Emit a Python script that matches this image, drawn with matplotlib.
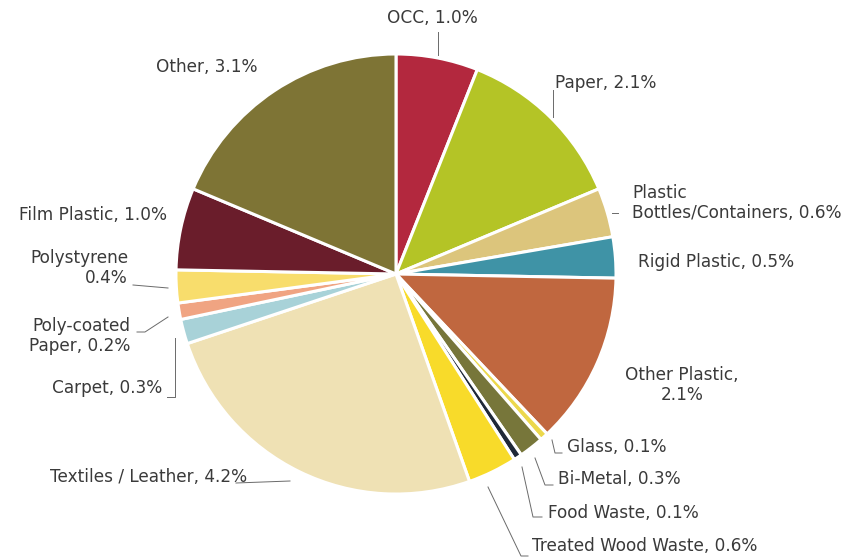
import matplotlib
matplotlib.use("Agg")
import matplotlib.pyplot as plt

# waste composition, share of total stream (%)
categories = ["OCC", "Paper", "Plastic Bottles/Containers", "Rigid Plastic",
              "Other Plastic", "Glass", "Bi-Metal", "Food Waste",
              "Treated Wood Waste", "Textiles / Leather", "Carpet",
              "Poly-coated Paper", "Polystyrene", "Film Plastic", "Other"]
values = [1.0, 2.1, 0.6, 0.5, 2.1, 0.1, 0.3, 0.1, 0.6, 4.2, 0.3, 0.2, 0.4, 1.0, 3.1]
colors = ["#b3283e", "#b4c426", "#dcc57c", "#3f93a6", "#c0673f", "#ecd84c",
          "#77763a", "#1f2838", "#f8db2a", "#efe1b4", "#a8d2d8", "#f0a482",
          "#f8dd6c", "#6a1d2b", "#7e7435"]
explode = [0.01, 0.01, 0.01, 0.01, 0.025, 0.04, 0.05, 0.05, 0.07, 0.045,
           0.02, 0.02, 0.02, 0.01, 0.01]

# label text, anchor (px from top-left), alignment, leader polyline
labels = [
    ("OCC, 1.0%", (432, 18), "center", [(438, 32), (438, 55)]),
    ("Paper, 2.1%", (555, 83), "left", [(553, 90), (553, 117)]),
    ("Plastic\nBottles/Containers, 0.6%", (632, 203), "left", [(612, 213), (618, 213)]),
    ("Rigid Plastic, 0.5%", (638, 262), "left", None),
    ("Other Plastic,\n2.1%", (682, 385), "center", None),
    ("Glass, 0.1%", (567, 447), "left", [(552, 440), (555, 453), (562, 453)]),
    ("Bi-Metal, 0.3%", (558, 479), "left", [(535, 458), (545, 485), (553, 485)]),
    ("Food Waste, 0.1%", (548, 513), "left", [(522, 467), (533, 517), (542, 517)]),
    ("Treated Wood Waste, 0.6%", (532, 546), "left", [(488, 487), (521, 556), (528, 556)]),
    ("Textiles / Leather, 4.2%", (247, 477), "right", [(236, 483), (290, 481)]),
    ("Carpet, 0.3%", (162, 388), "right", [(167, 397), (175, 397), (175, 338)]),
    ("Poly-coated\nPaper, 0.2%", (130, 336), "right", [(137, 332), (145, 332), (168, 317)]),
    ("Polystyrene\n0.4%", (128, 268), "right", [(133, 285), (168, 288)]),
    ("Film Plastic, 1.0%", (167, 215), "right", None),
    ("Other, 3.1%", (258, 67), "right", None),
]

W, H = 860, 558
plt.rcParams["font.family"] = ["DejaVu Sans"]

fig = plt.figure(figsize=(W / 100, H / 100), dpi=100)
ax = fig.add_axes([0, 0, 1, 1])

ax.pie(values, colors=colors, explode=explode, startangle=90, counterclock=False,
       center=(396, H - 274), radius=220, frame=True,
       wedgeprops=dict(edgecolor="white", linewidth=2.2))
ax.set_xlim(0, W)
ax.set_ylim(0, H)
ax.set_aspect("equal")
ax.axis("off")

for text, (x, y), ha, leader in labels:
    ax.text(x, H - y, text, ha=ha, va="center", fontsize=12.2, color="#3a3a3a",
            linespacing=1.2, multialignment=ha)
    if leader:
        ax.plot([p[0] for p in leader], [H - p[1] for p in leader],
                color="#6a6a6a", lw=0.7)

fig.savefig("out.png", dpi=100, facecolor="white")
